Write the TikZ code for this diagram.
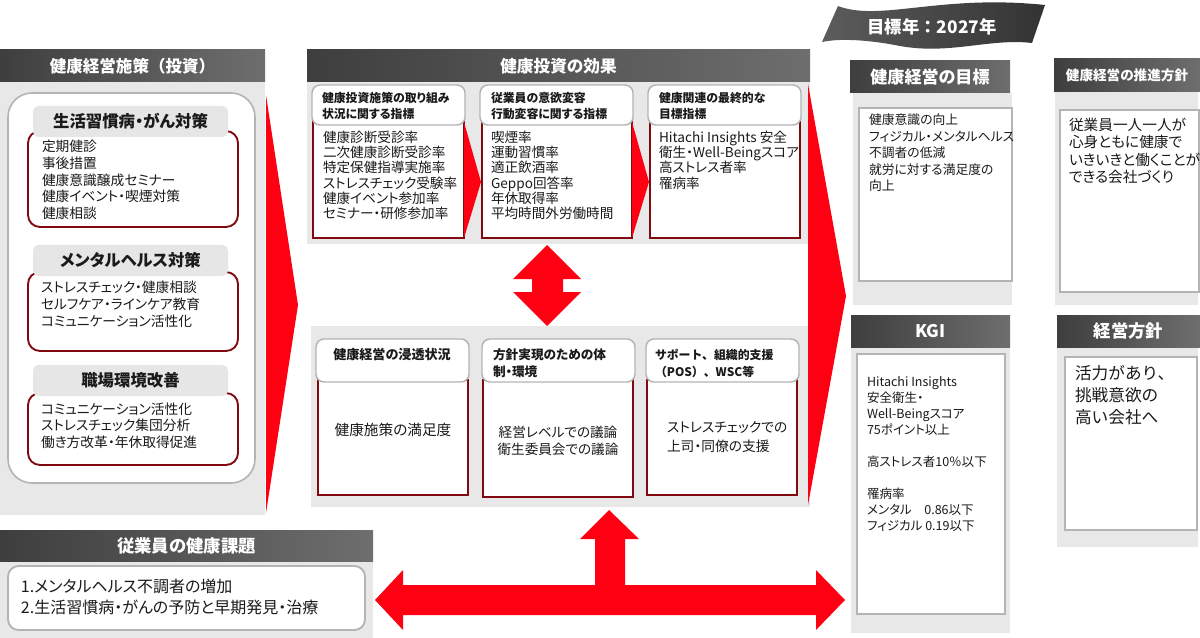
\documentclass[tikz,border=0pt]{standalone}
\usepackage{fontspec}
\setmainfont{Noto Sans CJK JP}[RawFeature=+palt]
\newfontfamily\jpfw{Noto Sans CJK JP}
\usetikzlibrary{fit}

\definecolor{hdrL}{HTML}{3E3E3E}
\definecolor{hdrR}{HTML}{6E6E6E}
\definecolor{bannerL}{HTML}{5C5C5C}
\definecolor{bannerR}{HTML}{333333}
\definecolor{panelgrey}{HTML}{E8E8E8}
\definecolor{linegrey}{HTML}{B4B4B4}
\definecolor{subgrey}{HTML}{E6E6E6}
\definecolor{darkred}{HTML}{800A10}
\definecolor{arrowred}{HTML}{FF0013}
\definecolor{txt}{HTML}{1A1A1A}

\newcommand{\fsz}[2]{\fontsize{#1}{#2}\selectfont}

\begin{document}
\begin{tikzpicture}[x=0.75pt, y=-0.75pt,
  every node/.style={inner sep=0pt, outer sep=0pt},
  hdr/.style={left color=hdrL, right color=hdrR},
  hdrtxt/.style={text=white},
  panel/.style={fill=panelgrey},
  roundbox/.style={draw=linegrey, fill=white, line width=1.2pt, rounded corners=18pt},
  subhdr/.style={fill=subgrey, rounded corners=4pt},
  subtxt/.style={font=\fsz{12.3}{15}\bfseries, text=txt},
  redbox/.style={draw=darkred, fill=white, line width=1.4pt},
  capbox/.style={draw=linegrey, fill=white, line width=1.1pt, rounded corners=6pt},
  whitebox/.style={draw=linegrey, fill=white, line width=1.4pt},
  txtblock/.style={anchor=north west, align=left, text=txt},
  captxt/.style={txtblock, font=\fsz{8.9}{12}\bfseries},
  bodytxt/.style={txtblock, font=\fsz{10.2}{11.4}},
  redarrow/.style={fill=arrowred}
]
\useasboundingbox (0,0) rectangle (1200,638);

% left panel
\node[panel, fit={(0,82)(265,515)}] (leftpanel) {};
\node[hdr, fit={(0,50)(265,82)}] (lefthdr) {};
\node[hdrtxt, font=\jpfw\fsz{12.4}{15}\bfseries] (lefthdrtxt) at (lefthdr) {健康経営施策（投資）};
\node[roundbox, fit={(8,93)(255,483)}] (leftround) {};

\node[redbox, rounded corners=9pt, fit={(28,131)(238,227)}] (lifebox) {};
\node[subhdr, fit={(33,106)(228,137)}] (lifehdr) {};
\node[subtxt] (lifehdrtxt) at (lifehdr) {生活習慣病・がん対策};
\node[txtblock, font=\fsz{10.3}{12.6}] (lifetxt) at (42,140) {定期健診\\事後措置\\健康意識醸成セミナー\\健康イベント・喫煙対策\\健康相談};

\node[redbox, rounded corners=9pt, fit={(28,272)(238,351)}] (mentalbox) {};
\node[subhdr, fit={(33,245)(228,276)}] (mentalhdr) {};
\node[subtxt] (mentalhdrtxt) at (mentalhdr) {メンタルヘルス対策};
\node[txtblock, font=\fsz{10.3}{12.6}] (mentaltxt) at (41,281) {ストレスチェック・健康相談\\セルフケア・ラインケア教育\\コミュニケーション活性化};

\node[redbox, rounded corners=9pt, fit={(28,393)(238,465)}] (workbox) {};
\node[subhdr, fit={(33,365)(228,396)}] (workhdr) {};
\node[subtxt] (workhdrtxt) at (workhdr) {職場環境改善};
\node[txtblock, font=\fsz{10.3}{12.3}] (worktxt) at (41,403) {コミュニケーション活性化\\ストレスチェック集団分析\\働き方改革・年休取得促進};

\fill[redarrow] (266,95) -- (298,305) -- (266,513) -- cycle;

% middle panel: effects
\node[hdr, fit={(307,50)(810,82)}] (effhdr) {};
\node[hdrtxt, font=\fsz{12.5}{15}\bfseries] (effhdrtxt) at (effhdr) {健康投資の効果};
\node[panel, fit={(307,82)(810,244)}] (effpanel) {};

\node[redbox, fit={(313,122)(464,238)}] (kpi1box) {};
\node[capbox, fit={(312,85)(465,125)}] (kpi1cap) {};
\node[captxt] (kpi1head) at (322,92) {健康投資施策の取り組み\\状況に関する指標};
\node[bodytxt] (kpi1txt) at (323,131) {健康診断受診率\\二次健康診断受診率\\特定保健指導実施率\\ストレスチェック受験率\\健康イベント参加率\\セミナー・研修参加率};

\node[redbox, fit={(482,122)(632,238)}] (kpi2box) {};
\node[capbox, fit={(480,85)(633,125)}] (kpi2cap) {};
\node[captxt] (kpi2head) at (491,92) {従業員の意欲変容\\行動変容に関する指標};
\node[bodytxt] (kpi2txt) at (491,131) {喫煙率\\運動習慣率\\適正飲酒率\\Geppo回答率\\年休取得率\\平均時間外労働時間};

\node[redbox, fit={(650,122)(800,238)}] (kpi3box) {};
\node[capbox, fit={(648,85)(801,125)}] (kpi3cap) {};
\node[captxt] (kpi3head) at (659,92) {健康関連の最終的な\\目標指標};
\node[bodytxt] (kpi3txt) at (659,131) {Hitachi Insights 安全\\衛生・Well-Beingスコア\\高ストレス者率\\罹病率};

\fill[redarrow] (kpi1box.north east) -- (481,182) -- (kpi1box.south east) -- cycle;
\fill[redarrow] (kpi2box.north east) -- (649,182) -- (kpi2box.south east) -- cycle;

% both ways between the rows
\fill[redarrow] (547,245) -- (581,279) -- (563,279) -- (563,292) -- (581,292) -- (547,326)
  -- (513,292) -- (532,292) -- (532,279) -- (513,279) -- cycle;

\node[panel, fit={(311,326)(810,507)}] (basepanel) {};

\node[redbox, fit={(318,380)(468,495)}] (base1box) {};
\node[capbox, fit={(316,339)(469,382)}] (base1cap) {};
\node[font=\fsz{9.8}{12}\bfseries, text=txt] (base1head) at (392,355) {健康経営の浸透状況};
\node[font=\fsz{11}{14}, text=txt] (base1txt) at (393,430) {健康施策の満足度};

\node[redbox, fit={(483,380)(633,497)}] (base2box) {};
\node[capbox, fit={(482,339)(635,382)}] (base2cap) {};
\node[txtblock, font=\fsz{9.5}{12.8}\bfseries] (base2head) at (493,349) {方針実現のための体\\制・環境};
\node[align=center, font=\fsz{10.2}{13.3}, text=txt] (base2txt) at (558,441) {経営レベルでの議論\\衛生委員会での議論};

\node[redbox, fit={(647,380)(797,495)}] (base3box) {};
\node[capbox, fit={(646,339)(799,382)}] (base3cap) {};
\node[txtblock, font=\jpfw\fsz{8.9}{12.8}\bfseries] (base3head) at (655,349) {サポート、組織的支援\\（POS）、WSC等};
\node[txtblock, font=\fsz{10.3}{14.2}] (base3txt) at (667,421) {ストレスチェックでの\\上司・同僚の支援};

\fill[redarrow] (808,84) -- (846,296) -- (808,505) -- cycle;

% bottom left: health issues
\node[hdr, fit={(0,530)(373,562)}] (issuehdr) {};
\node[hdrtxt, font=\fsz{13}{15}\bfseries] (issuehdrtxt) at (issuehdr) {従業員の健康課題};
\node[panel, fit={(0,562)(373,638)}] (issuepanel) {};
\node[whitebox, rounded corners=8pt, fit={(8,566)(365,630)}] (issuebox) {};
\node[txtblock, font=\fsz{12}{15.8}] (issuetxt) at (21,579) {1.メンタルヘルス不調者の増加\\2.生活習慣病・がんの予防と早期発見・治療};

\fill[redarrow] (375,600) -- (403,570) -- (403,585) -- (595,585) -- (595,539) -- (580,539)
  -- (609,510) -- (639,539) -- (625,539) -- (625,585) -- (816,585) -- (816,570)
  -- (845,600) -- (816,630) -- (816,615) -- (403,615) -- (403,630) -- cycle;

% right side: goals
\shade[left color=bannerL, right color=bannerR] (822,42) -- (838,6)
  .. controls (880,22) and (940,-6) .. (1045,5) -- (1032,43)
  .. controls (990,38) and (950,55) .. (900,46)
  .. controls (870,40) and (840,38) .. (822,42) -- cycle;
\node[font=\jpfw\fsz{13}{16}\bfseries, text=white] (bannertxt) at (932,27) {目標年：2027年};

\node[panel, fit={(853,93)(1012,305)}] (goalpanel) {};
\node[hdr, fit={(850,61)(1010,93)}] (goalhdr) {};
\node[hdrtxt, font=\fsz{12.8}{15}\bfseries] (goalhdrtxt) at (goalhdr) {健康経営の目標};
\node[whitebox, fit={(859,108)(1012,281)}] (goalbox) {};
\node[txtblock, font=\fsz{9.6}{12.4}] (goaltxt) at (869,114) {健康意識の向上\\フィジカル・メンタルヘルス\\不調者の低減\\就労に対する満足度の\\向上};

\node[panel, fit={(1055,92)(1198,305)}] (policypanel) {};
\node[hdr, fit={(1054,59)(1200,92)}] (policyhdr) {};
\node[hdrtxt, font=\fsz{10.2}{13}\bfseries] (policyhdrtxt) at (policyhdr) {健康経営の推進方針};
\node[whitebox, fit={(1060,110)(1199,292)}] (policybox) {};
\node[txtblock, font=\fsz{11}{13}] (policytxt) at (1069,118) {従業員一人一人が\\心身ともに健康で\\いきいきと働くことが\\できる会社づくり};

\node[panel, fit={(851,347)(1010,633)}] (kgipanel) {};
\node[hdr, fit={(851,315)(1010,347)}] (kgihdr) {};
\node[hdrtxt, font=\fsz{13}{15}\bfseries] (kgihdrtxt) at (kgihdr) {KGI};
\node[whitebox, fit={(857,354)(1005,614)}] (kgibox) {};
\node[txtblock, font=\fsz{9.4}{12}] (kgitxt) at (867,377) {Hitachi Insights\\安全衛生・\\Well-Beingスコア\\75ポイント以上\\[12pt]高ストレス者10％以下\\[12pt]罹病率\\メンタル　0.86以下\\フィジカル 0.19以下};

\node[panel, fit={(1057,347)(1198,547)}] (mgmtpanel) {};
\node[hdr, fit={(1057,315)(1200,347)}] (mgmthdr) {};
\node[hdrtxt, font=\fsz{13}{15}\bfseries] (mgmthdrtxt) at (mgmthdr) {経営方針};
\node[whitebox, fit={(1065,357)(1197,530)}] (mgmtbox) {};
\node[txtblock, font=\jpfw\fsz{12.5}{16.5}] (mgmttxt) at (1075,365) {活力があり、\\挑戦意欲の\\高い会社へ};

\end{tikzpicture}
\end{document}
